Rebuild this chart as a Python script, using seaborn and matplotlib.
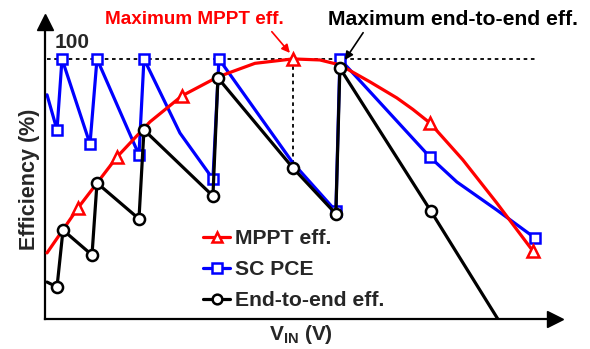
import matplotlib
matplotlib.use("Agg")
import matplotlib.pyplot as plt
import matplotlib.font_manager as fm
from matplotlib.lines import Line2D
import seaborn as sns

# ---- data (V_IN in arbitrary units, efficiency in %) ----
mppt_v = [0.02, 0.33, 0.72, 1.05, 1.37, 1.73, 2.10, 2.48, 2.75, 2.95, 3.25, 3.52, 3.68, 3.85,
          4.18, 4.52, 4.88]
mppt_eff = [25.4, 42.7, 62.3, 75.8, 85.8, 93.1, 98.3, 100.0, 99.6, 97.7, 91.2, 85.0, 80.6, 75.4,
            61.2, 44.6, 26.2]
mppt_marks = [1, 2, 4, 7, 13, 16]

sc_v = [0.02, 0.12, 0.17, 0.45, 0.52, 0.94, 0.99, 1.35, 1.68, 1.74, 2.48, 2.91, 2.95, 3.85, 4.12,
        4.52, 4.90]
sc_pce = [86.2, 72.7, 100.0, 67.3, 100.0, 63.1, 100.0, 71.5, 53.8, 100.0, 60.0, 41.5, 100.0, 62.3,
          52.7, 41.9, 31.2]
sc_marks = [1, 2, 3, 4, 5, 6, 8, 9, 11, 12, 13, 16]

e2e_v = [0.02, 0.12, 0.18, 0.47, 0.52, 0.94, 0.99, 1.68, 1.73, 2.48, 2.91, 2.95, 3.86, 4.53]
e2e_eff = [14.2, 12.3, 34.2, 24.6, 52.3, 38.5, 72.7, 47.3, 92.7, 58.1, 40.4, 96.5, 41.5, 0.0]
e2e_marks = list(range(1, 13))

legend_labels = ["MPPT eff.", "SC PCE", "End-to-end eff."]

sns.set_theme(style="white")
names = {f.name for f in fm.fontManager.ttflist}
NARROW = "Liberation Sans Narrow" in names
FONT = "Liberation Sans Narrow" if NARROW else "Liberation Sans"
k = 1.2 if NARROW else 1.0
plt.rcParams["font.family"] = [FONT, "DejaVu Sans"]
plt.rcParams["font.weight"] = "bold"
plt.rcParams["mathtext.fontset"] = "custom"
plt.rcParams["mathtext.rm"] = FONT + ":bold"

fig = plt.figure(figsize=(5.9, 3.49), dpi=100)
ax = fig.add_axes([0.0763, 0.086, 0.864, 0.851])

lw = 2.3
sns.lineplot(x=mppt_v, y=mppt_eff, ax=ax, color="#ff0000", lw=lw, sort=False, estimator=None,
             marker="^", markevery=mppt_marks, ms=8, mfc="white", mec="#ff0000", mew=1.8, zorder=3)
sns.lineplot(x=sc_v, y=sc_pce, ax=ax, color="#0000ff", lw=lw, sort=False, estimator=None,
             marker="s", markevery=sc_marks, ms=7.5, mfc="white", mec="#0000ff", mew=1.8, zorder=2)
sns.lineplot(x=e2e_v, y=e2e_eff, ax=ax, color="black", lw=lw, sort=False, estimator=None,
             marker="o", markevery=e2e_marks, ms=8, mfc="white", mec="black", mew=1.8, zorder=4)

# dotted guides at the maxima
ax.plot([0.02, 4.93], [100, 100], color="black", ls=(0, (2, 2)), lw=1.3, zorder=1)
ax.plot([2.48, 2.48], [100, 58.1], color="black", ls=(0, (2, 2)), lw=1.3, zorder=1)

ax.set_xlim(0, 5.1)
ax.set_ylim(0, 114.2)
ax.set_xticks([])
ax.set_yticks([])
for s in ["top", "right"]:
    ax.spines[s].set_visible(False)
for s in ["left", "bottom"]:
    ax.spines[s].set_color("black")
    ax.spines[s].set_linewidth(1.6)
ax.plot(1, 0, ">", color="black", ms=11, transform=ax.transAxes, clip_on=False)
ax.plot(0, 1, "^", color="black", ms=11, transform=ax.transAxes, clip_on=False)

ax.text(0.27, 106.5, "100", fontsize=15 * k, fontweight="bold", ha="center", va="center")
ax.annotate("Maximum MPPT eff.", xy=(2.45, 102.3), xytext=(1.49, 115), color="#ff0000",
            fontsize=13.6 * k, fontweight="bold", ha="center", va="center", annotation_clip=False,
            arrowprops=dict(arrowstyle="-|>", color="#ff0000", lw=1.2, shrinkA=0, shrinkB=0,
                            relpos=(0.92, 0.0), mutation_scale=12))
ax.annotate("Maximum end-to-end eff.", xy=(3.0, 99.6), xytext=(4.08, 115), color="black",
            fontsize=15.2 * k, fontweight="bold", ha="center", va="center", annotation_clip=False,
            arrowprops=dict(arrowstyle="-|>", color="black", lw=1.2, shrinkA=0, shrinkB=0,
                            relpos=(0.15, 0.0), mutation_scale=12))

fig.text(29 / 590, 1 - 179 / 349, "Efficiency (%)", rotation=90, fontsize=15.5 * k,
         fontweight="bold", ha="center", va="center")
fig.text(301 / 590, 1 - 334 / 349, r"$\mathrm{V_{IN}}$ (V)", fontsize=15 * k,
         fontweight="bold", ha="center", va="center")

handles = [
    Line2D([], [], color="#ff0000", lw=lw, marker="^", ms=7, mfc="white", mec="#ff0000", mew=1.8),
    Line2D([], [], color="#0000ff", lw=lw, marker="s", ms=6.5, mfc="white", mec="#0000ff", mew=1.8),
    Line2D([], [], color="black", lw=lw, marker="o", ms=7, mfc="white", mec="black", mew=1.8),
]
ax.legend(handles, legend_labels, loc="upper left", bbox_to_anchor=(0.31, 0.302), frameon=False,
          prop={"size": 15.2 * k, "weight": "bold"}, handlelength=1.28, handletextpad=0.25,
          labelspacing=0.56, borderpad=0, borderaxespad=0)

plt.savefig("out.png", dpi=100)
